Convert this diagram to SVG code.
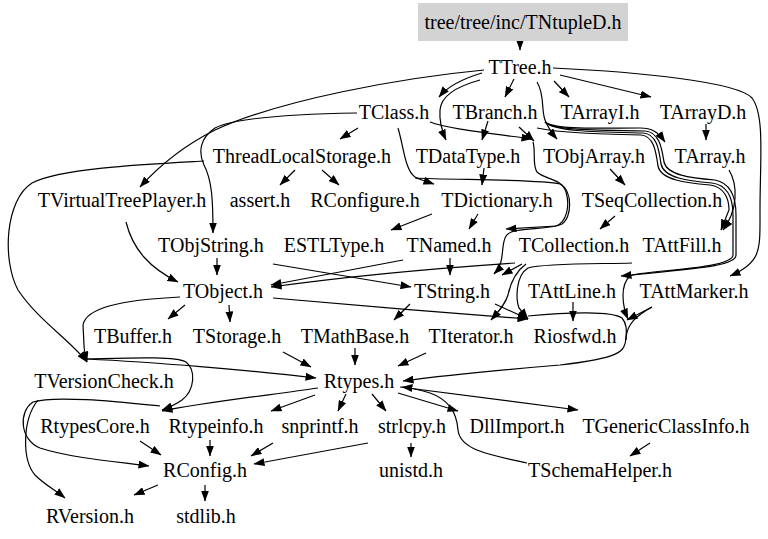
<svg xmlns="http://www.w3.org/2000/svg" width="768" height="539" viewBox="0 0 768 539">
<defs>
<marker id="ah" markerUnits="userSpaceOnUse" markerWidth="11" markerHeight="8" refX="10.5" refY="4" orient="auto">
<path d="M0,0 L11,4 L0,8 z" fill="#000"/>
</marker>
<style>
text{font-family:"Liberation Serif","Times New Roman",serif;font-size:20px;fill:#000;text-anchor:middle}
#edges path{fill:none;stroke:#000;stroke-width:1.2;marker-end:url(#ah)}
#edges path.nm{marker-end:none}
</style>
</defs>
<rect width="768" height="539" fill="#fff"/>
<g id="edges">
<path d="M520,41 L520,50"/>
<path d="M482,73 C465,78 448,86 439,97"/>
<path d="M480,80 C458,86 441,96 440,110 C439,122 442,131 446,140"/>
<path d="M514,79 L505,97"/>
<path d="M554,81 L569,97"/>
<path d="M560,75 L651,97"/>
<path d="M537,82 C545,95 541,110 545,120 C548,128 551,132 557,139"/>
<path d="M484,70 C400,78 280,100 215,130 C185,145 160,165 140,187"/>
<path d="M553,68 C640,72 738,82 752,98 C765,115 760,160 760,210 C760,250 762,262 730,276"/>
<path d="M488,121 L482,140"/>
<path d="M519,127 L534,141"/>
<path d="M430,122 C445,128 480,132 532,139"/>
<path class="nm" d="M533,142 C536,152 532,165 537,172 C545,180 562,178 566,192"/>
<path d="M566,192 C570,205 567,222 556,226 L506,229"/>
<path d="M358,128 L340,139"/>
<path d="M357,113 C300,114 235,117 215,128 C200,138 198,152 204,165 C212,180 213,200 213,233"/>
<path d="M204,161 C150,164 60,168 32,183 C5,200 2,260 18,290 C38,320 70,340 87,362"/>
<path d="M398,128 C404,148 405,170 415,177 C420,180 425,181 434,184"/>
<path d="M415,178 C450,180 540,179 560,184 C573,190 572,218 562,224 C547,231 512,226 506,236 C500,246 506,262 494,274"/>
<path d="M484,168 L482,185"/>
<path d="M295,170 L280,185"/>
<path d="M322,170 L339,185"/>
<path d="M610,169 L625,185"/>
<path d="M706,124 L706,140"/>
<path d="M545,122 C555,130 600,128 640,128 C652,128 658,132 665,142"/>
<path d="M545,122 C555,131 600,130 645,131 C660,132 662,150 664,162 C667,175 690,178 715,180 C730,183 736,195 736,215 L736,255 C736,266 700,268 621,276"/>
<path d="M545,122 C555,132 600,132 643,133 C657,134 659,150 661,164 C664,178 688,181 712,183 C727,185 733,196 733,215 L733,255 C732,270 640,270 630,276 C620,285 622,305 628,319"/>
<path d="M537,128 C560,133 600,134 641,135 C654,136 656,152 658,166 C661,180 686,183 710,185 C724,187 729,198 729,210 L721,230"/>
<path d="M729,170 C738,185 738,210 723,230"/>
<path d="M432,214 L391,230"/>
<path d="M478,214 L469,229"/>
<path d="M615,216 L600,229"/>
<path d="M126,222 C133,250 150,268 178,282"/>
<path d="M217,258 L217,275"/>
<path d="M273,264 L411,287"/>
<path d="M403,260 L271,285"/>
<path d="M515,263 C440,268 350,276 271,287"/>
<path d="M450,258 L450,275"/>
<path d="M522,264 L502,275"/>
<path d="M526,264 C515,272 510,285 508,295 C505,305 498,312 491,320"/>
<path d="M632,263 C600,264 545,263 528,268 C515,276 516,300 519,308 L528,319"/>
<path d="M185,305 L168,319"/>
<path d="M229,305 L230,322"/>
<path d="M180,297 C120,300 86,308 83,325 L84,345 C84,350 85,354 87,362"/>
<path d="M273,298 C350,305 450,313 528,319"/>
<path d="M410,304 L394,320"/>
<path d="M495,304 L528,319"/>
<path d="M573,302 L573,321"/>
<path d="M652,307 L627,320"/>
<path d="M652,307 C636,316 627,324 626,338 C625,352 620,358 560,365 C500,370 440,376 403,381"/>
<path class="nm" d="M528,316 C570,312 612,311 622,318 C628,325 626,333 626,340"/>
<path d="M355,348 L355,365"/>
<path d="M426,353 L398,366"/>
<path d="M283,352 L311,367"/>
<path d="M87,359 C150,362 250,370 316,378"/>
<path d="M87,359 C130,358 175,356 186,362 C196,370 195,390 182,400 C175,405 170,407 162,410"/>
<path d="M318,388 C270,395 200,403 162,411"/>
<path d="M160,406 C120,402 55,395 33,402 C18,412 20,440 40,448 C70,458 120,462 149,466"/>
<path d="M38,400 C22,420 22,460 35,475 C45,485 55,490 65,498"/>
<path d="M315,395 L271,411"/>
<path d="M346,394 L338,411"/>
<path d="M372,394 L386,411"/>
<path d="M398,393 L458,411"/>
<path d="M400,387 L578,410"/>
<path d="M527,463 C490,455 460,450 458,430 C457,415 450,400 430,393 C420,390 412,388 402,387"/>
<path d="M140,441 L161,455"/>
<path d="M210,440 L210,456"/>
<path d="M273,443 L251,456"/>
<path d="M368,443 L254,464"/>
<path d="M411,443 L411,457"/>
<path d="M650,443 L630,456"/>
<path d="M158,485 L134,495"/>
<path d="M205,485 L205,501"/>
</g>
<g id="n_TNtupleD"><rect x="418" y="3" width="210" height="38" fill="#d3d3d3"/><text x="523" y="29">tree/tree/inc/TNtupleD.h</text></g>
<g id="n_TTree"><text x="520" y="74">TTree.h</text></g>
<g id="n_TClass"><text x="394" y="119">TClass.h</text></g>
<g id="n_TBranch"><text x="495" y="119">TBranch.h</text></g>
<g id="n_TArrayI"><text x="600" y="119">TArrayI.h</text></g>
<g id="n_TArrayD"><text x="703" y="119">TArrayD.h</text></g>
<g id="n_ThreadLocalStorage"><text x="302" y="163">ThreadLocalStorage.h</text></g>
<g id="n_TDataType"><text x="468" y="163">TDataType.h</text></g>
<g id="n_TObjArray"><text x="594" y="163">TObjArray.h</text></g>
<g id="n_TArray"><text x="710" y="163">TArray.h</text></g>
<g id="n_TVirtualTreePlayer"><text x="122" y="207">TVirtualTreePlayer.h</text></g>
<g id="n_assert"><text x="260" y="207">assert.h</text></g>
<g id="n_RConfigure"><text x="365" y="207">RConfigure.h</text></g>
<g id="n_TDictionary"><text x="497" y="207">TDictionary.h</text></g>
<g id="n_TSeqCollection"><text x="652" y="207">TSeqCollection.h</text></g>
<g id="n_TObjString"><text x="211" y="252">TObjString.h</text></g>
<g id="n_ESTLType"><text x="334" y="252">ESTLType.h</text></g>
<g id="n_TNamed"><text x="449" y="252">TNamed.h</text></g>
<g id="n_TCollection"><text x="574" y="252">TCollection.h</text></g>
<g id="n_TAttFill"><text x="682" y="252">TAttFill.h</text></g>
<g id="n_TObject"><text x="223" y="298">TObject.h</text></g>
<g id="n_TString"><text x="452" y="298">TString.h</text></g>
<g id="n_TAttLine"><text x="572" y="298">TAttLine.h</text></g>
<g id="n_TAttMarker"><text x="694" y="298">TAttMarker.h</text></g>
<g id="n_TBuffer"><text x="133" y="343">TBuffer.h</text></g>
<g id="n_TStorage"><text x="237" y="343">TStorage.h</text></g>
<g id="n_TMathBase"><text x="355" y="343">TMathBase.h</text></g>
<g id="n_TIterator"><text x="471" y="343">TIterator.h</text></g>
<g id="n_Riosfwd"><text x="575" y="343">Riosfwd.h</text></g>
<g id="n_TVersionCheck"><text x="104" y="388">TVersionCheck.h</text></g>
<g id="n_Rtypes"><text x="359" y="388">Rtypes.h</text></g>
<g id="n_RtypesCore"><text x="95" y="433">RtypesCore.h</text></g>
<g id="n_Rtypeinfo"><text x="216" y="433">Rtypeinfo.h</text></g>
<g id="n_snprintf"><text x="320" y="433">snprintf.h</text></g>
<g id="n_strlcpy"><text x="412" y="433">strlcpy.h</text></g>
<g id="n_DllImport"><text x="517" y="433">DllImport.h</text></g>
<g id="n_TGenericClassInfo"><text x="666" y="433">TGenericClassInfo.h</text></g>
<g id="n_RConfig"><text x="205" y="477">RConfig.h</text></g>
<g id="n_unistd"><text x="411" y="477">unistd.h</text></g>
<g id="n_TSchemaHelper"><text x="600" y="477">TSchemaHelper.h</text></g>
<g id="n_RVersion"><text x="90" y="523">RVersion.h</text></g>
<g id="n_stdlib"><text x="206" y="523">stdlib.h</text></g>
</svg>
